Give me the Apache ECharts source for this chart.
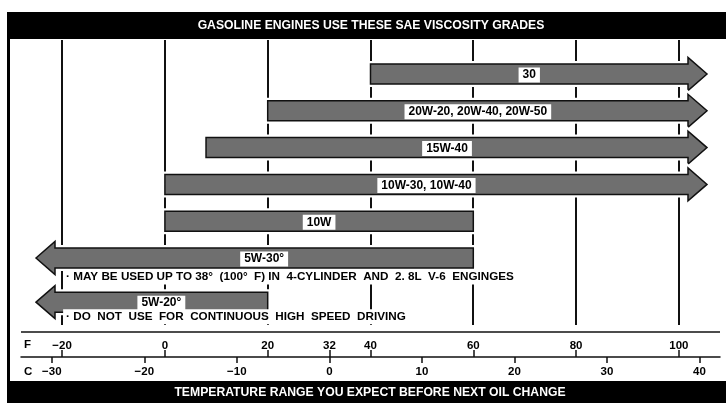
<!DOCTYPE html>
<html>
<head>
<meta charset="utf-8">
<script src="https://cdn.jsdelivr.net/npm/echarts@6/dist/echarts.min.js"></script>
<style>
  html, body { margin: 0; padding: 0; background: #fff; }
  #chart { width: 726px; height: 403px; }
</style>
</head>
<body>
<div id="chart"></div>
<script>
// SAE viscosity grades and the outdoor temperature band (°F) each one covers.
// null means the band stays open in that direction (drawn as an arrowhead).
const grades = ['30', '20W-20, 20W-40, 20W-50', '15W-40', '10W-30, 10W-40', '10W', '5W-30°', '5W-20°'];
const lowF  = [40, 20, 8, 0, 0, null, null];
const highF = [null, null, null, null, 60, 60, 20];

// footnotes printed under the 5W-30 and 5W-20 bands
const noteGrades = ['5W-30°', '5W-20°'];
const notes = [
  '· MAY BE USED UP TO 38°  (100°  F) IN  4-CYLINDER  AND  2. 8L  V-6  ENGINGES',
  '· DO  NOT  USE  FOR  CONTINUOUS  HIGH  SPEED  DRIVING'
];

// scale marks
const gridF  = [-20, 0, 20, 40, 60, 80, 100];
const ticksF = [-20, 0, 20, 32, 40, 60, 80, 100];
const ticksC = [-30, -20, -10, 0, 10, 20, 30, 40];

const titleText  = 'GASOLINE ENGINES USE THESE SAE VISCOSITY GRADES';
const footerText = 'TEMPERATURE RANGE YOU EXPECT BEFORE NEXT OIL CHANGE';

// ---- layout ----
const FONT = '"Liberation Sans", Arial, Helvetica, sans-serif';
const minF = -28, maxF = 108;
const toC = f => (f - 32) * 5 / 9;
const BODY = 10, HEAD = 16.5, HEAD_LEN = 19;
// the last band sits a little lower to leave room for the first footnote
const rowPos = i => i + (i === grades.length - 1 ? 0.2 : 0);
const noteOffset = [19, 14.5];
const fmt = v => String(v).replace('-', '\u2212');

function renderGrid(params, api) {
  const cs = params.coordSys;
  const x = Math.round(api.coord([api.value(0), 0])[0]);
  return {
    type: 'line',
    shape: { x1: x, y1: cs.y, x2: x, y2: cs.y + cs.height },
    style: { stroke: '#111', lineWidth: 2 }
  };
}

function renderArrow(params, api) {
  const i = api.value(0);
  const cs = params.coordSys;
  const yc = api.coord([minF, rowPos(i)])[1];
  const openLeft = lowF[i] == null, openRight = highF[i] == null;
  const tipL = cs.x + 15, baseL = tipL + HEAD_LEN;
  const tipR = cs.x + cs.width - 13, baseR = tipR - HEAD_LEN;
  const x0 = openLeft ? baseL : api.coord([lowF[i], 0])[0];
  const x1 = openRight ? baseR : api.coord([highF[i], 0])[0];

  const pts = [];
  if (openLeft) pts.push([tipL, yc], [baseL, yc - HEAD]);
  pts.push([x0, yc - BODY]);
  if (openRight) {
    pts.push([baseR, yc - BODY], [baseR, yc - HEAD], [tipR, yc], [baseR, yc + HEAD], [baseR, yc + BODY]);
  } else {
    pts.push([x1, yc - BODY], [x1, yc + BODY]);
  }
  pts.push([x0, yc + BODY]);
  if (openLeft) pts.push([baseL, yc + HEAD]);

  const children = [
    { type: 'polygon', shape: { points: pts }, style: { fill: 'none', stroke: '#fff', lineWidth: 6, lineJoin: 'miter' } },
    { type: 'polygon', shape: { points: pts }, style: { fill: '#6f6f6f', stroke: '#111', lineWidth: 1.5, lineJoin: 'miter' } },
    {
      type: 'text',
      style: {
        text: grades[i], x: (x0 + x1) / 2, y: yc + 1,
        align: 'center', verticalAlign: 'middle',
        font: 'bold 12px ' + FONT, fill: '#000',
        backgroundColor: '#fff', padding: [2, 4, 1, 4]
      }
    }
  ];

  const n = noteGrades.indexOf(grades[i]);
  if (n >= 0) {
    children.push({
      type: 'text',
      style: {
        text: notes[n], x: api.coord([gridF[0], 0])[0] + 1, y: yc + noteOffset[n],
        align: 'left', verticalAlign: 'middle',
        font: 'bold 11.7px ' + FONT, fill: '#000',
        backgroundColor: '#fff', padding: [2, 4, 1, 3]
      }
    });
  }
  return { type: 'group', children };
}

const chart = echarts.init(document.getElementById('chart'), null, { renderer: 'canvas' });
chart.setOption({
  animation: false,
  backgroundColor: '#fff',
  grid: [
    { left: 21, right: 6, top: 40, bottom: 78, outerBoundsMode: 'none' },
    { left: 21, right: 6, top: 356, bottom: 46, outerBoundsMode: 'none' }
  ],
  xAxis: [
    { gridIndex: 0, type: 'value', min: minF, max: maxF, show: false },
    {
      gridIndex: 1, type: 'value', min: minF, max: maxF, position: 'bottom',
      axisLine: { show: true, lineStyle: { color: '#111', width: 1.5 } },
      axisTick: { show: true, inside: true, length: 7, customValues: ticksF, lineStyle: { color: '#111', width: 1.5 } },
      axisLabel: {
        inside: true, margin: 5, customValues: ticksF, formatter: fmt,
        color: '#000', fontFamily: FONT, fontWeight: 'bold', fontSize: 11.5
      },
      splitLine: { show: false }
    },
    {
      gridIndex: 1, type: 'value', min: toC(minF), max: toC(maxF), position: 'bottom',
      axisLine: { show: false },
      axisTick: { show: true, inside: false, length: 6, customValues: ticksC, lineStyle: { color: '#111', width: 1.5 } },
      axisLabel: {
        margin: 9, customValues: ticksC, formatter: fmt,
        color: '#000', fontFamily: FONT, fontWeight: 'bold', fontSize: 11.5
      },
      splitLine: { show: false }
    }
  ],
  yAxis: [
    { gridIndex: 0, type: 'value', inverse: true, min: -0.924, max: 6.821, show: false },
    { gridIndex: 1, type: 'value', min: 0, max: 1, show: false }
  ],
  graphic: [
    { type: 'rect', shape: { x: 8, y: 12, width: 718, height: 27 }, style: { fill: '#000' }, silent: true },
    { type: 'rect', shape: { x: 7, y: 12, width: 3, height: 391 }, style: { fill: '#000' }, silent: true },
    { type: 'rect', shape: { x: 8, y: 381, width: 718, height: 22 }, style: { fill: '#000' }, silent: true },
    { type: 'text', x: 371, y: 26, style: { text: titleText, align: 'center', verticalAlign: 'middle', fill: '#fff', font: 'bold 12.2px ' + FONT } },
    { type: 'text', x: 370, y: 393, style: { text: footerText, align: 'center', verticalAlign: 'middle', fill: '#fff', font: 'bold 12.2px ' + FONT } },
    { type: 'line', shape: { x1: 21, y1: 332, x2: 720, y2: 332 }, style: { stroke: '#111', lineWidth: 1.5 } },
    { type: 'text', x: 24, y: 345, style: { text: 'F', align: 'left', verticalAlign: 'middle', fill: '#000', font: 'bold 11.5px ' + FONT } },
    { type: 'text', x: 24, y: 372, style: { text: 'C', align: 'left', verticalAlign: 'middle', fill: '#000', font: 'bold 11.5px ' + FONT } }
  ],
  series: [
    {
      type: 'custom', xAxisIndex: 0, yAxisIndex: 0, z: 1, silent: true,
      data: gridF.map(v => [v]), renderItem: renderGrid
    },
    {
      type: 'custom', xAxisIndex: 0, yAxisIndex: 0, z: 2, silent: true, clip: false,
      data: grades.map((g, i) => [i]), renderItem: renderArrow
    }
  ]
});
</script>
</body>
</html>
